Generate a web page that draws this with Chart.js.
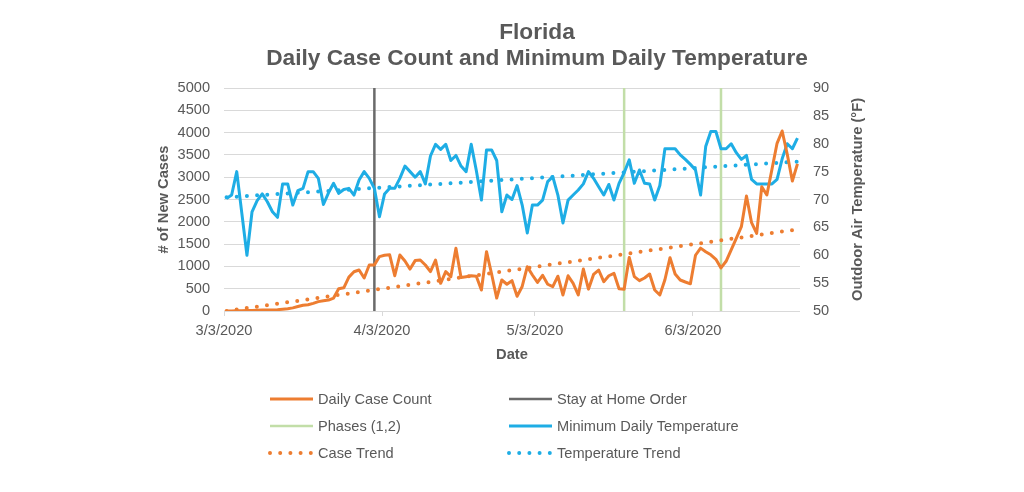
<!DOCTYPE html>
<html><head><meta charset="utf-8">
<script src="https://cdn.jsdelivr.net/npm/chart.js@4"></script>
<style>html,body{margin:0;padding:0;background:#fff}#wrap{width:1024px;height:492px}</style>
</head><body><div id="wrap"><canvas id="c" width="1024" height="492"></canvas></div>
<script>
// ---- data (day index 0 = 3/3/2020) ----
const tickDays = [0, 31, 61, 92];
const tickLabels = ['3/3/2020', '4/3/2020', '5/3/2020', '6/3/2020'];
const caseCounts = [
  0,0,5,5,10,10,15,20,20,25,
  30,40,50,70,100,130,140,170,210,230,
  245,290,500,520,760,880,920,740,1030,1030,
  1220,1250,1260,790,1256,1120,940,1130,1143,1031,
  882,1143,620,882,770,1405,750,770,790,780,
  470,1330,830,290,695,600,680,330,550,994,
  807,640,800,600,546,780,359,790,620,359,
  940,490,820,919,658,790,845,500,490,1200,
  770,680,740,830,471,359,700,1196,830,695,
  650,610,1250,1410,1330,1260,1160,965,1115,1370,
  1630,1891,2580,1980,1741,2788,2600,3180,3760,4036,
  3515,2915,3300
];
const minTemps = [
  70.2,70.8,75.0,67.5,60.0,67.8,69.8,71.0,69.6,67.8,
  66.8,72.8,72.8,69.0,71.6,72.0,75.0,75.0,73.8,69.1,
  71.2,72.9,71.1,71.8,72.0,70.8,73.5,75.0,73.8,72.0,
  66.9,71.0,72.0,72.0,73.8,76.0,75.0,74.0,75.0,72.8,
  77.8,79.9,79.0,79.9,77.0,77.9,76.0,75.0,79.9,75.2,
  69.9,78.9,78.9,77.0,67.8,70.8,70.0,72.5,69.0,64.0,
  69.0,69.0,69.9,73.2,74.1,70.8,65.8,69.9,70.8,71.7,
  72.8,75.0,73.8,72.3,70.8,72.7,69.9,72.9,74.8,77.1,
  72.9,75.3,72.9,72.8,69.9,72.5,79.1,79.1,79.1,78.0,
  77.2,76.3,75.3,70.8,79.5,82.2,82.2,79.1,79.1,80.0,
  78.4,77.2,77.9,73.6,72.8,72.8,72.8,72.8,73.6,77.3,
  80.0,79.1,81.0
];
const caseTrend = [0, 1830];      // trend line value at first / last day
const tempTrend = [70.4, 76.8];
const stayHomeDays = [29.5];
const phaseDays = [78.5, 97.5];
const daySpan = 113;

// ---- styling ----
const FONT = "'Liberation Sans', Arial, Helvetica, sans-serif";
const TXT = '#595959';
const ORANGE = '#ED7D31', BLUE = '#1EADE5', GRAY = '#6A6A6A', GREEN = '#C2DEA8';

const pos = i => i + 0.5;
const series = arr => arr.map((v, i) => ({x: pos(i), y: v}));
const trendX = [pos(0), pos(caseCounts.length - 1)];
const trend = ends => ends.map((v, i) => ({x: trendX[i], y: v}));
const vlines = (days, top) => days.flatMap((d, i) => {
  const seg = [{x: d, y: 0}, {x: d, y: top}];
  return i < days.length - 1 ? seg.concat([{x: (d + days[i + 1]) / 2, y: null}]) : seg;
});

const datasets = [
  {label: 'Daily Case Count', data: series(caseCounts), borderColor: ORANGE, borderWidth: 3, yAxisID: 'y', legendSlot: [0, 0]},
  {label: 'Minimum Daily Temperature', data: series(minTemps), borderColor: BLUE, borderWidth: 3, yAxisID: 'y1', legendSlot: [1, 1]},
  {label: 'Case Trend', data: trend(caseTrend), borderColor: ORANGE, borderWidth: 4, borderDash: [0, 10.2], borderCapStyle: 'round', yAxisID: 'y', legendSlot: [0, 2]},
  {label: 'Temperature Trend', data: trend(tempTrend), borderColor: BLUE, borderWidth: 4, borderDash: [0, 10.2], borderCapStyle: 'round', yAxisID: 'y1', legendSlot: [1, 2]},
  {label: 'Stay at Home Order', data: vlines(stayHomeDays, 5000), borderColor: GRAY, borderWidth: 2.5, yAxisID: 'y', legendSlot: [1, 0]},
  {label: 'Phases (1,2)', data: vlines(phaseDays, 5000), borderColor: GREEN, borderWidth: 2.5, yAxisID: 'y', spanGaps: false, legendSlot: [0, 1]}
];
datasets.forEach(d => { d.pointRadius = 0; d.fill = false; d.tension = 0; d.borderJoinStyle = 'round'; });

const decor = {
  id: 'decor',
  afterDraw(chart) {
    const ctx = chart.ctx;
    ctx.save();
    // title
    ctx.fillStyle = TXT;
    ctx.textAlign = 'center';
    ctx.textBaseline = 'middle';
    ctx.font = "bold 22.7px " + FONT;
    ctx.fillText('Florida', 537, 33);
    ctx.fillText('Daily Case Count and Minimum Daily Temperature', 537, 59);
    // right axis title (reads bottom-to-top)
    ctx.save();
    ctx.translate(858, (chart.chartArea.top + chart.chartArea.bottom) / 2);
    ctx.rotate(-Math.PI / 2);
    ctx.font = "bold 14.7px " + FONT;
    ctx.fillText('Outdoor Air Temperature (°F)', 0, 0);
    ctx.restore();
    // legend
    const colX = [270, 509], rowY = [399, 426, 453];
    ctx.font = "14.6px " + FONT;
    ctx.textAlign = 'left';
    chart.data.datasets.forEach(ds => {
      const [c, r] = ds.legendSlot;
      const x = colX[c], y = rowY[r];
      ctx.save();
      ctx.strokeStyle = ds.borderColor;
      ctx.lineWidth = ds.borderWidth;
      ctx.lineCap = ds.borderDash ? 'round' : 'butt';
      ctx.setLineDash(ds.borderDash || []);
      ctx.beginPath();
      ctx.moveTo(x, y); ctx.lineTo(x + 43, y);
      ctx.stroke();
      ctx.restore();
      ctx.fillStyle = TXT;
      ctx.fillText(ds.label, x + 48, y + 1);
    });
    ctx.restore();
  }
};

new Chart(document.getElementById('c'), {
  type: 'line',
  data: {datasets},
  plugins: [decor],
  options: {
    responsive: false, animation: false, devicePixelRatio: 1,
    layout: {padding: {top: 88, left: 0, right: 0, bottom: 0}},
    plugins: {legend: {display: false}, tooltip: {enabled: false}, title: {display: false}},
    scales: {
      x: {
        type: 'linear', min: 0, max: daySpan, position: 'bottom',
        afterFit(s) { s.height = 181; },
        afterBuildTicks(s) { s.ticks = tickDays.map(v => ({value: v})); },
        ticks: {autoSkip: false, maxRotation: 0, padding: 6, color: TXT, font: {family: FONT, size: 14.6},
                callback: (v, i) => tickLabels[i]},
        grid: {drawOnChartArea: false, drawTicks: true, tickLength: 5, color: '#D9D9D9'},
        border: {display: false},
        title: {display: true, text: 'Date', color: TXT, font: {family: FONT, size: 14.7, weight: 'bold'}, padding: {top: 0, bottom: 128}}
      },
      y: {
        position: 'left', min: 0, max: 5000,
        afterFit(s) { s.width = 224; },
        ticks: {stepSize: 500, padding: 14, color: TXT, font: {family: FONT, size: 14.6}, callback: v => String(v)},
        grid: {color: '#D9D9D9', drawTicks: false, lineWidth: 1},
        border: {display: false},
        title: {display: true, text: '# of New Cases', color: TXT, font: {family: FONT, size: 14.7, weight: 'bold'}, padding: {top: 155, bottom: 0}}
      },
      y1: {
        position: 'right', min: 50, max: 90,
        afterFit(s) { s.width = 224; },
        ticks: {stepSize: 5, padding: 13, color: TXT, font: {family: FONT, size: 14.6}, callback: v => String(v)},
        grid: {display: false, drawTicks: false},
        border: {display: false}
      }
    }
  }
});
</script>
</body></html>
